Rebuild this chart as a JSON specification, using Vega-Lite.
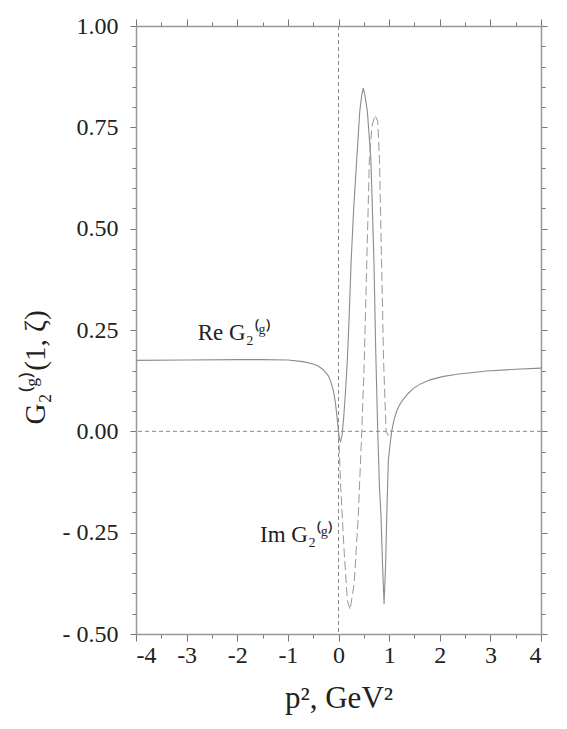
{
  "$schema": "https://vega.github.io/schema/vega-lite/v6.json",
  "width": 405,
  "height": 608,
  "autosize": "none",
  "padding": {"left": 136, "top": 26, "right": 26, "bottom": 95},
  "background": "white",
  "config": {
    "view": {"stroke": null},
    "font": "Liberation Serif",
    "axis": {
      "grid": false,
      "domainColor": "#999999",
      "domainWidth": 1.5,
      "tickColor": "#777777",
      "tickWidth": 1,
      "labelFont": "Liberation Serif",
      "labelColor": "#222222",
      "titleFont": "Liberation Serif",
      "titleColor": "#222222",
      "titleFontWeight": "normal"
    }
  },
  "datasets": {
    "re": [
      {"p2": -4.0, "g": 0.175}, {"p2": -3.0, "g": 0.176}, {"p2": -2.0, "g": 0.177},
      {"p2": -1.5, "g": 0.177}, {"p2": -1.0, "g": 0.176}, {"p2": -0.7, "g": 0.172},
      {"p2": -0.5, "g": 0.166}, {"p2": -0.4, "g": 0.161}, {"p2": -0.3, "g": 0.152},
      {"p2": -0.2, "g": 0.137}, {"p2": -0.15, "g": 0.122}, {"p2": -0.1, "g": 0.1},
      {"p2": -0.06, "g": 0.07}, {"p2": -0.03, "g": 0.035}, {"p2": 0.0, "g": 0.0},
      {"p2": 0.02, "g": -0.02}, {"p2": 0.04, "g": -0.025}, {"p2": 0.07, "g": -0.01},
      {"p2": 0.1, "g": 0.03}, {"p2": 0.14, "g": 0.1}, {"p2": 0.175, "g": 0.176},
      {"p2": 0.21, "g": 0.28}, {"p2": 0.25, "g": 0.42}, {"p2": 0.3, "g": 0.55},
      {"p2": 0.36, "g": 0.67}, {"p2": 0.42, "g": 0.79}, {"p2": 0.46, "g": 0.83},
      {"p2": 0.49, "g": 0.847}, {"p2": 0.52, "g": 0.83}, {"p2": 0.57, "g": 0.79},
      {"p2": 0.64, "g": 0.67}, {"p2": 0.7, "g": 0.42}, {"p2": 0.735, "g": 0.2},
      {"p2": 0.775, "g": 0.0}, {"p2": 0.81, "g": -0.14}, {"p2": 0.84, "g": -0.21},
      {"p2": 0.87, "g": -0.33}, {"p2": 0.9, "g": -0.426}, {"p2": 0.93, "g": -0.33},
      {"p2": 0.955, "g": -0.2}, {"p2": 0.985, "g": -0.071}, {"p2": 1.02, "g": -0.03},
      {"p2": 1.05, "g": 0.0}, {"p2": 1.1, "g": 0.03}, {"p2": 1.15, "g": 0.05},
      {"p2": 1.21, "g": 0.066}, {"p2": 1.28, "g": 0.079}, {"p2": 1.38, "g": 0.094},
      {"p2": 1.48, "g": 0.106}, {"p2": 1.62, "g": 0.117}, {"p2": 1.81, "g": 0.127},
      {"p2": 2.05, "g": 0.135}, {"p2": 2.34, "g": 0.141}, {"p2": 2.93, "g": 0.149},
      {"p2": 3.5, "g": 0.153}, {"p2": 4.0, "g": 0.156}
    ],
    "im": [
      {"p2": 0.0, "g": 0.0}, {"p2": 0.02, "g": -0.06}, {"p2": 0.04, "g": -0.128},
      {"p2": 0.11, "g": -0.293}, {"p2": 0.175, "g": -0.417}, {"p2": 0.23, "g": -0.44},
      {"p2": 0.31, "g": -0.375}, {"p2": 0.39, "g": -0.21}, {"p2": 0.46, "g": 0.0},
      {"p2": 0.51, "g": 0.176}, {"p2": 0.56, "g": 0.423}, {"p2": 0.61, "g": 0.67},
      {"p2": 0.66, "g": 0.752}, {"p2": 0.72, "g": 0.78}, {"p2": 0.775, "g": 0.765},
      {"p2": 0.81, "g": 0.67}, {"p2": 0.85, "g": 0.423}, {"p2": 0.89, "g": 0.176},
      {"p2": 0.94, "g": 0.0}, {"p2": 0.98, "g": -0.01}, {"p2": 1.05, "g": 0.0}
    ],
    "labels": [
      {"p2": -2.78, "g": 0.243, "t": "Re G₂⁽ᵍ⁾"},
      {"p2": -1.55, "g": -0.256, "t": "Im G₂⁽ᵍ⁾"}
    ],
    "vref": [{"p2": 0}],
    "href": [{"g": 0}]
  },
  "resolve": {"axis": {"x": "independent", "y": "independent"}},
  "layer": [
    {
      "data": {"name": "vref"},
      "mark": {"type": "rule", "color": "#888888", "strokeWidth": 1, "strokeDash": [4, 3]},
      "encoding": {
        "x": {
          "field": "p2", "type": "quantitative",
          "scale": {"domain": [-4, 4], "nice": false, "zero": false},
          "axis": {
            "orient": "bottom",
            "values": [-4, -3.5, -3, -2.5, -2, -1.5, -1, -0.5, 0, 0.5, 1, 1.5, 2, 2.5, 3, 3.5, 4],
            "labelExpr": "datum.value % 1 == 0 ? ((datum.value < 0 ? '-' : '') + abs(datum.value)) : ''",
            "labelFontSize": 24,
            "labelPadding": 2,
            "tickSize": {"condition": {"test": "datum.value % 1 == 0", "value": 7}, "value": 4},
            "title": "p², GeV²",
            "titleFontSize": 31,
            "titlePadding": 16
          }
        }
      }
    },
    {
      "data": {"name": "href"},
      "mark": {"type": "rule", "color": "#888888", "strokeWidth": 1, "strokeDash": [4, 3]},
      "encoding": {
        "y": {
          "field": "g", "type": "quantitative",
          "scale": {"domain": [-0.5, 1.0], "nice": false, "zero": false},
          "axis": {
            "orient": "left",
            "values": [-0.5, -0.45, -0.4, -0.35, -0.3, -0.25, -0.2, -0.15, -0.1, -0.05, 0, 0.05, 0.1, 0.15, 0.2, 0.25, 0.3, 0.35, 0.4, 0.45, 0.5, 0.55, 0.6, 0.65, 0.7, 0.75, 0.8, 0.85, 0.9, 0.95, 1.0],
            "labelExpr": "abs(datum.value * 4 - round(datum.value * 4)) < 0.000001 ? ((datum.value < 0 ? '- ' : '') + format(abs(datum.value), '.2f')) : ''",
            "labelFontSize": 24,
            "labelPadding": 12,
            "tickSize": {"condition": {"test": "abs(datum.value * 4 - round(datum.value * 4)) < 0.000001", "value": 6}, "value": 4},
            "title": "G₂⁽ᵍ⁾(1, ζ)",
            "titleFontSize": 29,
            "titleX": -86,
            "titleY": 341
          }
        }
      }
    },
    {
      "data": {"name": "re"},
      "mark": {"type": "line", "color": "#8c8c8c", "strokeWidth": 1.1},
      "encoding": {
        "x": {"field": "p2", "type": "quantitative", "axis": {
          "orient": "top",
          "values": [-4, -3.5, -3, -2.5, -2, -1.5, -1, -0.5, 0, 0.5, 1, 1.5, 2, 2.5, 3, 3.5, 4],
          "labels": false, "title": null,
          "tickSize": {"condition": {"test": "datum.value % 1 == 0", "value": 7}, "value": 4}
        }},
        "y": {"field": "g", "type": "quantitative", "axis": {
          "orient": "right",
          "values": [-0.5, -0.45, -0.4, -0.35, -0.3, -0.25, -0.2, -0.15, -0.1, -0.05, 0, 0.05, 0.1, 0.15, 0.2, 0.25, 0.3, 0.35, 0.4, 0.45, 0.5, 0.55, 0.6, 0.65, 0.7, 0.75, 0.8, 0.85, 0.9, 0.95, 1.0],
          "labels": false, "title": null,
          "tickSize": {"condition": {"test": "abs(datum.value * 4 - round(datum.value * 4)) < 0.000001", "value": 6}, "value": 4}
        }}
      }
    },
    {
      "data": {"name": "im"},
      "mark": {"type": "line", "color": "#999999", "strokeWidth": 1, "strokeDash": [9, 4]},
      "encoding": {
        "x": {"field": "p2", "type": "quantitative", "axis": null},
        "y": {"field": "g", "type": "quantitative", "axis": null}
      }
    },
    {
      "data": {"name": "labels"},
      "mark": {"type": "text", "align": "left", "baseline": "middle", "fontSize": 23, "font": "Liberation Serif", "color": "#222222"},
      "encoding": {
        "x": {"field": "p2", "type": "quantitative", "axis": null},
        "y": {"field": "g", "type": "quantitative", "axis": null},
        "text": {"field": "t"}
      }
    }
  ]
}
